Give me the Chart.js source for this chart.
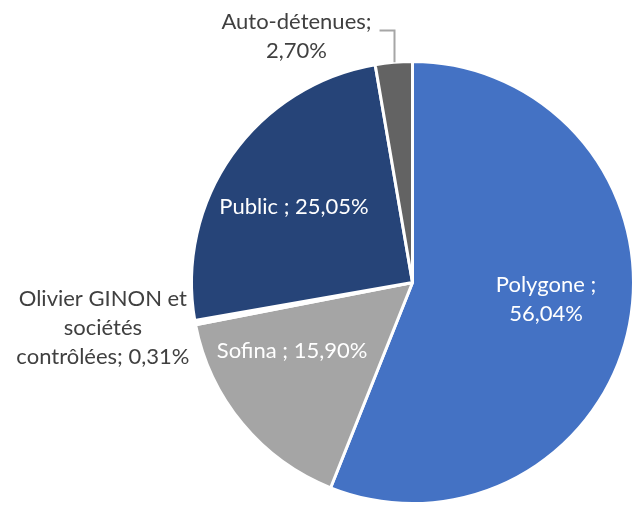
<!DOCTYPE html>
<html><head><meta charset="utf-8">
<script src="https://cdn.jsdelivr.net/npm/chart.js@4"></script>
<style>html,body{margin:0;padding:0;background:#fff}#w{width:635px;height:506px}</style>
</head><body><div id="w"><canvas id="c"></canvas></div>
<script>
const categories = ["Polygone", "Sofina", "Olivier GINON et sociétés contrôlées", "Public", "Auto-détenues"];
const shares = [56.04, 15.90, 0.31, 25.05, 2.70];
const labelLines = [
  ["Polygone ;", "56,04%"],
  ["Sofina ; 15,90%"],
  ["Olivier GINON et", "sociétés", "contrôlées; 0,31%"],
  ["Public ; 25,05%"],
  ["Auto-détenues;", "2,70%"]
];
const colors = ["#4472C4", "#A5A5A5", "#FFFFFF", "#264478", "#636363"];
const labelColors = ["#FFFFFF", "#FFFFFF", "#404040", "#FFFFFF", "#404040"];
// label block centres relative to pie centre, in units of radius
const labelPos = [[0.604, 0.077], [-0.545, 0.311], [-1.401, 0.207], [-0.536, -0.342], [-0.525, -1.115]];

const FONT = '22px Lato';
const LH = 29;

const labelPlugin = {
  id: 'labels',
  afterDatasetsDraw(chart) {
    const ctx = chart.ctx;
    const meta = chart.getDatasetMeta(0);
    ctx.save();
    ctx.font = FONT;
    ctx.textAlign = 'center';
    ctx.textBaseline = 'middle';
    meta.data.forEach((arc, i) => {
      const r = arc.outerRadius;
      const cx = arc.x + labelPos[i][0] * r;
      const cy = arc.y + labelPos[i][1] * r;
      const lines = labelLines[i];
      const top = cy - (lines.length - 1) * LH / 2;
      ctx.fillStyle = labelColors[i];
      lines.forEach((t, k) => ctx.fillText(t, cx, top + k * LH));
      if (i === 4) {
        const mid = (arc.startAngle + arc.endAngle) / 2;
        const px = Math.round(arc.x + Math.cos(mid) * r) + 0.5;
        const py = arc.y + Math.sin(mid) * r;
        const w = ctx.measureText(lines[0]).width;
        const lx = cx + w / 2 + 8;
        const ly = Math.round(top + 8) + 0.5;
        ctx.strokeStyle = '#A6A6A6';
        ctx.lineWidth = 2;
        ctx.beginPath();
        ctx.moveTo(px, py);
        ctx.lineTo(px, ly);
        ctx.lineTo(lx, ly);
        ctx.stroke();
      }
    });
    ctx.restore();
  }
};

new Chart(document.getElementById('c'), {
  type: 'pie',
  data: {
    labels: categories,
    datasets: [{
      data: shares,
      backgroundColor: colors,
      borderColor: '#FFFFFF',
      borderWidth: 3
    }]
  },
  options: {
    responsive: true,
    maintainAspectRatio: false,
    animation: false,
    layout: { padding: { top: 59, bottom: 0, left: 190, right: 0 } },
    plugins: { legend: { display: false }, tooltip: { enabled: false } }
  },
  plugins: [labelPlugin]
});
</script>
</body></html>
